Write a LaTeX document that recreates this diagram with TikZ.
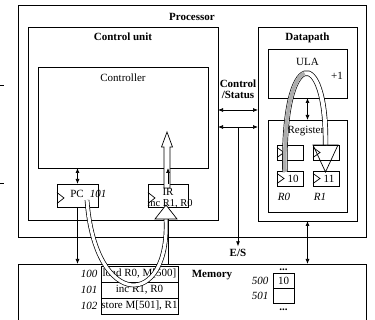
\documentclass[tikz,border=0pt]{standalone}
\usepackage{fontspec}
\setmainfont{Liberation Serif}
\usetikzlibrary{arrows.meta}
\begin{document}
\begin{tikzpicture}[x=1pt,y=-1pt,
  box/.style={draw, line width=0.8pt, inner sep=0pt, outer sep=0pt},
  ttl/.style={font=\fontsize{11}{12}\selectfont\bfseries, inner sep=0pt},
  txt/.style={font=\fontsize{11}{13}\selectfont, inner sep=0pt},
  itx/.style={font=\fontsize{11}{13}\selectfont\itshape, inner sep=0pt},
  tip/.tip={Latex[length=5pt,width=4pt]},
  arr/.style={line width=0.7pt, -tip},
  darr/.style={line width=0.7pt, tip-tip},
  hollow/.style={line width=0.7pt, double=white, double distance=3.2pt},
  clk/.style={line width=0.7pt},
]
\useasboundingbox (0,0) rectangle (375,320);
% stray marks
\coordinate (m1a) at (0,85); \coordinate (m1b) at (4,85);
\coordinate (m2a) at (0,183); \coordinate (m2b) at (4,183);
\draw[line width=0.6pt] (m1a) -- (m1b);
\draw[line width=0.6pt] (m2a) -- (m2b);
% processor
\node[box, line width=1pt, minimum width=348pt, minimum height=232pt] (proc) at (192,122) {};
\node[ttl] (proclbl) at (192,17) {Processor};
\node[box, minimum width=190pt, minimum height=193pt] (cu) at (123,123.5) {};
\node[ttl] (culbl) at (123,37) {Control unit};
\node[box, minimum width=170pt, minimum height=101pt] (ctrl) at (123,117.5) {};
\node[txt] (ctrllbl) at (123,78) {Controller};
% PC and IR
\node[box, txt, minimum width=41pt, minimum height=23pt] (pc) at (77.5,195.5) {};
\node[txt] (pclbl) at (77,194) {PC};
\node[itx] (pcval) at (98,194) {101};
\node[box, txt, minimum width=40pt, minimum height=23pt] (ir) at (168,195.5) {};
\node[txt] (irlbl) at (168,192) {IR};
\node[txt, font=\fontsize{10.5}{12}\selectfont] (irval) at (170,204) {inc R1, R0};
% datapath
\node[box, minimum width=99pt, minimum height=194pt] (dp) at (307.5,124) {};
\node[ttl] (dplbl) at (307.5,38) {Datapath};
\node[box, minimum width=79pt, minimum height=49pt] (ula) at (307.5,73.5) {};
\node[txt] (ulalbl) at (307.5,62) {ULA};
\node[txt] (plus) at (337,76) {+1};
\node[box, minimum width=79pt, minimum height=92pt] (reg) at (307.5,166) {};
\node[txt] (reglbl) at (308,131) {Registers};
\node[box, minimum width=26pt, minimum height=15pt] (t0) at (290,152.5) {};
\node[box, minimum width=26pt, minimum height=15pt] (t1) at (326,152.5) {};
\node[box, txt, minimum width=26pt, minimum height=15pt] (r0) at (290,178.5) {\hspace{6pt}10};
\node[box, txt, minimum width=26pt, minimum height=15pt] (r1) at (326,178.5) {\hspace{6pt}11};
\node[itx] (r0lbl) at (284,197) {R0};
\node[itx] (r1lbl) at (320,197) {R1};
\foreach \b in {t0,t1,r0,r1}
  \draw[clk] ([yshift=5pt]\b.west) -- ([xshift=7pt]\b.west) -- ([yshift=-5pt]\b.west);
\draw[clk] ([yshift=3pt]pc.west) -- ([xshift=7pt,yshift=-2.5pt]pc.west) -- ([yshift=-8pt]pc.west);
\draw[clk] ([yshift=3pt]ir.west) -- ([xshift=7pt,yshift=-2.5pt]ir.west) -- ([yshift=-8pt]ir.west);
% control / status
\node[ttl, align=center] (cs) at (238,89) {Control\\[-1pt]/Status};
\coordinate (cs1) at (0,110);
\coordinate (cs2) at (0,127);
\draw[darr] (cu.east |- cs1) -- (dp.west |- cs1);
\draw[darr] (cu.east |- cs2) -- (dp.west |- cs2);
\node[ttl, outer sep=3pt] (es) at (238,253) {E/S};
\coordinate (esb) at (238,127);
\draw[arr] (esb) -- (es.north);
% memory
\node[box, minimum width=348pt, minimum height=66pt] (mem) at (192,297) {};
\node[ttl] (memlbl) at (212,275) {Memory};
\node[box, txt, minimum width=77pt, minimum height=16pt] (m100) at (139.5,274) {load R0, M[500]};
\node[box, txt, minimum width=77pt, minimum height=16pt] (m101) at (139.5,290) {inc R1, R0};
\node[box, txt, minimum width=77pt, minimum height=16pt] (m102) at (139.5,306) {store M[501], R1};
\node[itx] (a100) at (89,274) {100};
\node[itx] (a101) at (89,290) {101};
\node[itx] (a102) at (89,306) {102};
\node[box, txt, minimum width=21pt, minimum height=15pt] (m500) at (283.5,280.5) {10};
\node[box, txt, minimum width=21pt, minimum height=15pt] (m501) at (283.5,295.5) {};
\node[itx] (a500) at (260,281) {500};
\node[itx] (a501) at (260,296) {501};
\node[txt, anchor=base] (dtop) at (283.5,270.5) {\textbf{...}};
\node[txt, anchor=base] (dbot) at (283.5,311) {\textbf{...}};
% connectors
\draw[darr] (pc.north |- ctrl.south) -- (pc.north);
\draw[arr] (pc.south) -- (pc.south |- mem.north);
\draw[line width=0.7pt] (ir.south) -- (ir.south |- mem.north);
\draw[darr] (ula.south) -- (reg.north);
\draw[darr] (dp.south) -- (dp.south |- mem.north);
% hollow arrow IR -> controller
\coordinate (irt) at (167,132);
\draw[line width=0.7pt, fill=white] (164,188) -- (164,147) -- (161.5,147) -- (irt) -- (172.5,147) -- (170,147) -- (170,188) -- cycle;
\draw[arr] (ir.north) -- (ir.north |- ctrl.south);
% fetch curve PC -> memory -> IR
\coordinate (fs) at (87,200);
\coordinate (fe) at (166,219);
\draw[hollow] (fs) .. controls (95,310) and (170,310) .. (fe);
\draw[line width=0.7pt, fill=white] (155,219) -- (177,219) -- (166,205) -- cycle;
% datapath arch R0 -> ULA -> R1
\coordinate (as) at (285,172);
\coordinate (am) at (304.6,73.4);
\coordinate (ae) at (325.5,145);
\draw[line width=0.7pt, double=white, double distance=4pt] (as) .. controls (282,45) and (327,45) .. (ae);
\draw[black!32, line width=3.6pt] (as) .. controls (283.5,108.5) and (294,76.75) .. (am);
\draw[line width=0.7pt] (313,145) -- (338,145) -- (325.5,172) -- cycle;
\end{tikzpicture}
\end{document}
